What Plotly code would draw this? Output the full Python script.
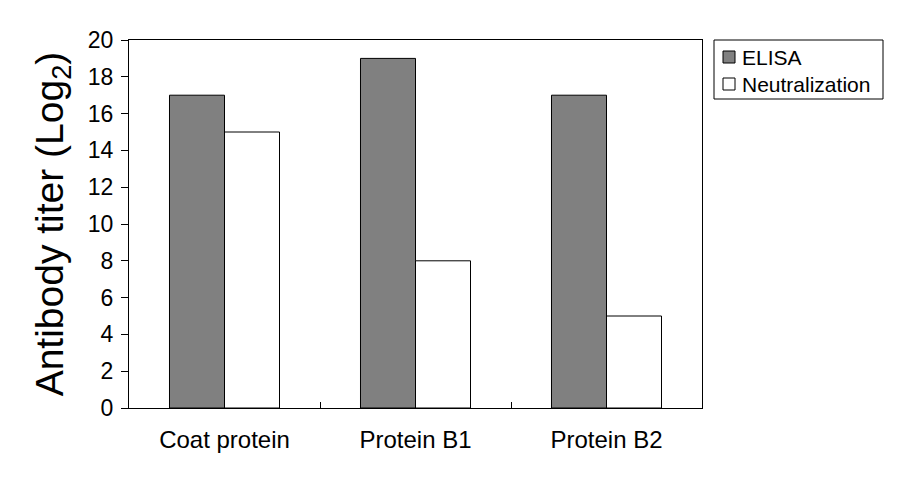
import plotly.graph_objects as go

categories = ["Coat protein", "Protein B1", "Protein B2"]
elisa = [17, 19, 17]
neutralization = [15, 8, 5]
y_ticks = list(range(0, 21, 2))

FONT = "Liberation Sans, Arial, sans-serif"
W, H = 918, 478
ML, MR, MT, MB = 129, 216, 40, 70
PW, PH = W - ML - MR, H - MT - MB


def px_x(x):
    return (x - ML) / PW


def px_y(y):
    return (H - MB - y) / PH


series = [
    ("ELISA", elisa, "#808080"),
    ("Neutralization", neutralization, "white"),
]

fig = go.Figure()
for name, vals, col in series:
    fig.add_trace(go.Bar(x=categories, y=vals, name=name, showlegend=False,
                         marker=dict(color=col, line=dict(color="black", width=1))))

# custom legend (box, swatches, labels)
shapes = [dict(type="rect", xref="paper", yref="paper",
               x0=px_x(714), x1=px_x(883), y0=px_y(99), y1=px_y(40),
               line=dict(color="black", width=1), fillcolor="white", layer="above")]
annotations = []
for i, (name, vals, col) in enumerate(series):
    cy = 57 + i * 27
    shapes.append(dict(type="rect", xref="paper", yref="paper",
                       x0=px_x(723), x1=px_x(735), y0=px_y(cy + 6), y1=px_y(cy - 6),
                       line=dict(color="black", width=1), fillcolor=col, layer="above"))
    annotations.append(dict(xref="paper", yref="paper", x=px_x(740), y=px_y(cy),
                            xanchor="left", yanchor="middle", showarrow=False,
                            text=name, font=dict(size=21, family=FONT, color="black")))

fig.update_layout(
    width=W, height=H,
    margin=dict(l=ML, r=MR, t=MT, b=MB),
    paper_bgcolor="white", plot_bgcolor="white",
    barmode="group", bargap=0.424, bargroupgap=0,
    font=dict(family=FONT, color="black"),
    showlegend=False,
    shapes=shapes, annotations=annotations,
)
fig.update_xaxes(
    showline=True, linecolor="black", linewidth=1, mirror=True,
    ticks="inside", tickson="boundaries", ticklen=6, tickcolor="black",
    tickfont=dict(size=24, family=FONT, color="black"),
    ticklabelstandoff=10,
    showgrid=False,
)
fig.update_yaxes(
    range=[0, 20], tickvals=y_ticks,
    showline=True, linecolor="black", linewidth=1, mirror=True,
    ticks="outside", ticklen=7, tickcolor="black",
    tickfont=dict(size=23, family=FONT, color="black"),
    ticklabelstandoff=3,
    showgrid=False, zeroline=False,
    title=dict(text="Antibody titer (Log<sub>2</sub>)",
               font=dict(size=39, family=FONT, color="black"), standoff=12),
)

fig.write_html("out.html")
